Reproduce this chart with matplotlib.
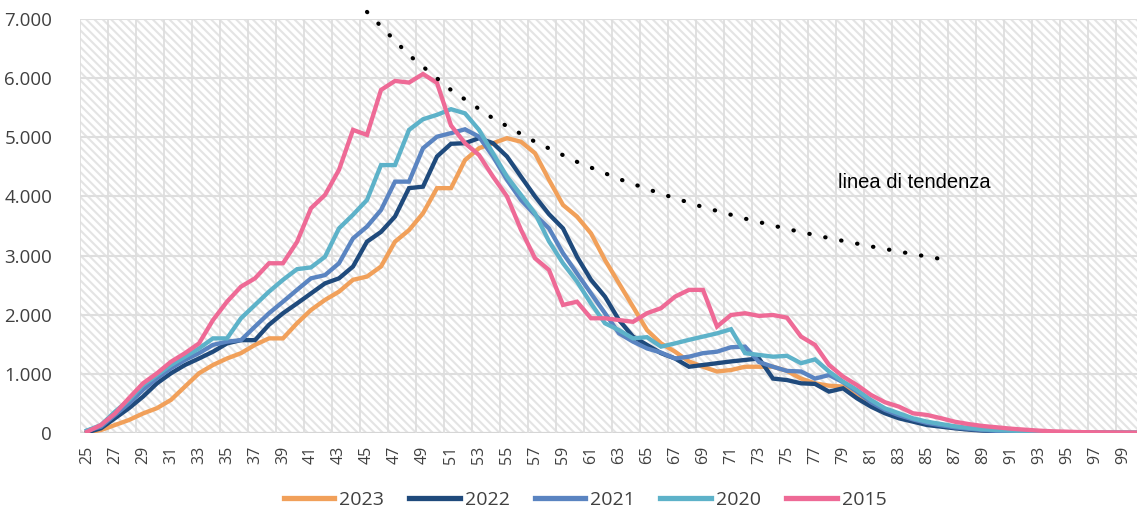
import matplotlib
matplotlib.use('Agg')
import matplotlib.pyplot as plt
from matplotlib.patches import Rectangle

# weekly values by age, one list per year
ages = list(range(25, 101))

y2023 = [10, 50, 135, 220, 330, 420, 560, 785, 1010, 1150,
         1260, 1350, 1490, 1600, 1600, 1855, 2080, 2250, 2390, 2590,
         2645, 2815, 3235, 3430, 3715, 4140, 4140, 4615, 4815, 4900,
         4985, 4925, 4730, 4280, 3855, 3660, 3375, 2925, 2530, 2135,
         1740, 1515, 1375, 1210, 1120, 1040, 1065, 1120, 1120, 1120,
         1050, 920, 840, 800, 785, 615, 475, 360, 276, 220,
         175, 135, 107, 79, 56, 40, 30, 20, 15, 10,
         8, 6, 5, 4, 3, 2]

y2022 = [10, 80, 250, 420, 615, 840, 1010, 1150, 1260, 1375,
         1515, 1570, 1570, 1830, 2025, 2190, 2360, 2530, 2615, 2815,
         3235, 3400, 3660, 4140, 4165, 4675, 4890, 4900, 4985, 4900,
         4675, 4335, 4000, 3700, 3460, 2980, 2590, 2305, 1910, 1630,
         1490, 1350, 1260, 1120, 1150, 1180, 1210, 1235, 1260, 920,
         895, 840, 830, 700, 755, 586, 445, 333, 248, 192,
         135, 107, 79, 56, 40, 30, 22, 15, 10, 7,
         5, 4, 3, 2, 2, 1]

y2021 = [40, 107, 305, 500, 730, 925, 1095, 1235, 1350, 1490,
         1545, 1570, 1800, 2025, 2220, 2420, 2615, 2670, 2870, 3290,
         3490, 3770, 4250, 4250, 4815, 5010, 5070, 5135, 5010, 4675,
         4280, 3940, 3690, 3460, 3040, 2700, 2360, 2025, 1685, 1545,
         1430, 1360, 1260, 1290, 1350, 1375, 1450, 1460, 1200, 1120,
         1050, 1040, 920, 980, 860, 700, 520, 390, 300, 230,
         170, 130, 95, 70, 50, 35, 25, 18, 12, 8,
         6, 5, 4, 3, 2, 2]

y2020 = [40, 135, 360, 560, 810, 980, 1150, 1290, 1430, 1600,
         1600, 1940, 2165, 2390, 2590, 2770, 2800, 2980, 3460, 3690,
         3940, 4530, 4530, 5125, 5305, 5380, 5475, 5405, 5125, 4730,
         4335, 4025, 3715, 3240, 2870, 2560, 2190, 1855, 1740, 1600,
         1620, 1460, 1515, 1575, 1630, 1685, 1755, 1350, 1320, 1290,
         1305, 1180, 1245, 1040, 870, 727, 558, 417, 333, 248,
         192, 152, 113, 85, 62, 50, 40, 30, 20, 15,
         10, 6, 5, 4, 3, 2]

y2015 = [20, 135, 330, 590, 840, 1010, 1205, 1350, 1515, 1910,
         2220, 2475, 2615, 2870, 2870, 3230, 3800, 4025, 4450, 5125,
         5040, 5800, 5953, 5925, 6070, 5920, 5200, 4900, 4700, 4335,
         4000, 3435, 2955, 2756, 2165, 2220, 1940, 1940, 1910, 1880,
         2025, 2110, 2305, 2420, 2420, 1800, 1995, 2025, 1980, 1995,
         1950, 1630, 1490, 1150, 955, 810, 643, 520, 445, 333,
         305, 250, 190, 150, 118, 96, 73, 56, 40, 28,
         22, 15, 12, 10, 8, 6]

# dotted trend line
trend_x = [45, 48, 51, 54, 57, 60, 63, 66, 69, 72, 75, 78, 81, 84, 86]
trend_y = [7120, 6390, 5800, 5320, 4925, 4585, 4295, 4045, 3820, 3625,
           3450, 3295, 3155, 3025, 2942]

series = [("2023", y2023, "#F1A05A"),
          ("2022", y2022, "#1F4A7C"),
          ("2021", y2021, "#5A84C1"),
          ("2020", y2020, "#5DB2C9"),
          ("2015", y2015, "#EE6A96")]

plt.rcParams['hatch.linewidth'] = 1.5
plt.rcParams['font.family'] = ['Open Sans', 'DejaVu Sans']

fig = plt.figure(figsize=(11.37, 5.15), dpi=100)
ax = fig.add_axes([80/1137, 82/515, 1057/1137, 414/515])

ax.set_xlim(24.5, 100.0)
ax.set_ylim(0, 7000)

# hatched plot area
bg = Rectangle((0, 0), 1, 1, transform=ax.transAxes, facecolor="white",
               edgecolor="#e4e4e4", hatch="\\\\\\\\", linewidth=0, zorder=0)
ax.add_patch(bg)

for yv in range(1000, 8000, 1000):
    ax.axhline(yv, color="#dedede", lw=1.5, zorder=1)
ax.axhline(0, color="#d6d6d6", lw=1.6, zorder=1)
for xv in [a - 0.5 for a in ages[::2]]:
    ax.axvline(xv, color="#dedede", lw=1.3, zorder=1)

for name, vals, col in series:
    ax.plot(ages, vals, color=col, lw=3.1, label=name, zorder=3,
            solid_joinstyle="miter")

ax.plot(trend_x, trend_y, color="black", lw=3.0, linestyle=(0, (0.1, 3.8)),
        dash_capstyle="round", zorder=4, clip_on=False)

ax.text(838, 515 - 183, "linea di tendenza", transform=None, fontsize=14.5,
        family="Liberation Sans", va="center", ha="left", color="black")

for s in ax.spines.values():
    s.set_visible(False)

ax.set_xticks(ages[:-1:2])
ax.set_xticklabels([str(a) for a in ages[:-1:2]], rotation=90, fontsize=11.5,
                   color="#404040")
ax.set_yticks(range(0, 8000, 1000))
ax.set_yticklabels(["0"] + [f"{v // 1000}.000" for v in range(1000, 8000, 1000)],
                   fontsize=13.5, color="#404040")
ax.tick_params(axis="both", length=0)
ax.tick_params(axis="x", pad=9)
ax.tick_params(axis="y", pad=20)

ax.legend(loc="center", bbox_to_anchor=(585/1137, 0.03), bbox_transform=fig.transFigure,
          ncol=5, frameon=False, fontsize=14, handlelength=2.6, handletextpad=0.25,
          columnspacing=1.3, labelcolor="#404040")
for ln in ax.get_legend().get_lines():
    ln.set_linewidth(3.8)

fig.savefig("out.png", dpi=100)
